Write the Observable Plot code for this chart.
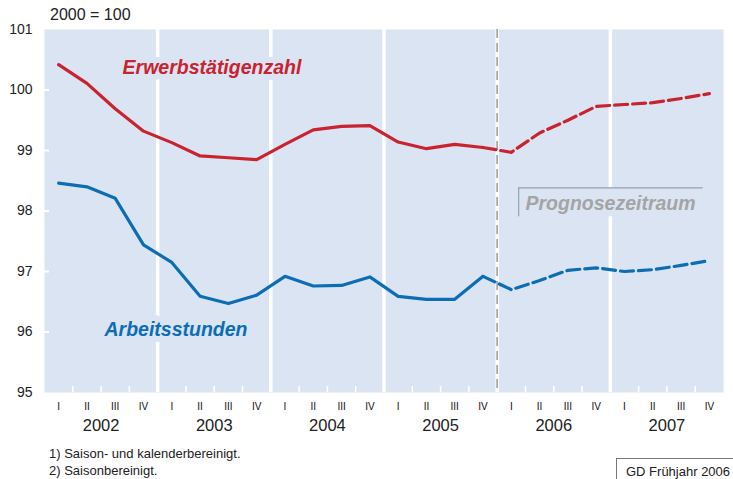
<!DOCTYPE html>
<html>
<head>
<meta charset="utf-8">
<script src="https://cdn.jsdelivr.net/npm/d3@7"></script>
<script src="https://cdn.jsdelivr.net/npm/@observablehq/plot@0.6"></script>
<style>
  html, body { margin: 0; padding: 0; background: #fff; }
  body { font-family: "Liberation Sans", Arial, sans-serif; color: #222; width: 733px; height: 479px; overflow: hidden; }
  #head { position: relative; height: 23px; }
  #head span { position: absolute; left: 50px; top: 6px; font-size: 16px; line-height: normal; white-space: nowrap; }
  #foot { position: relative; height: 38px; }
  #foot .fn { position: absolute; left: 49px; font-size: 13px; line-height: normal; white-space: nowrap; }
  #foot .src { position: absolute; left: 616px; top: 17px; right: -5px; bottom: -5px; border-left: 1px solid #777; border-top: 1px solid #777; padding: 5px 0 0 9px; font-size: 13px; line-height: normal; white-space: nowrap; }
  svg { overflow: visible; }
</style>
</head>
<body>
<div id="head"><span>2000 = 100</span></div>
<div id="chart"></div>
<div id="foot">
  <span class="fn" style="top:5px">1) Saison- und kalenderbereinigt.</span>
  <span class="fn" style="top:22px">2) Saisonbereinigt.</span>
  <div class="src">GD Frühjahr 2006</div>
</div>
<script>
// ---- data ----
const years = [2002, 2003, 2004, 2005, 2006, 2007];
const quarters = ["I", "II", "III", "IV"];
const erwerbstaetige = [
  100.42, 100.11, 99.69, 99.32,
  99.13, 98.91, 98.88, 98.85,
  99.10, 99.34, 99.40, 99.41,
  99.14, 99.03, 99.10, 99.05,
  98.97, 99.29, 99.50, 99.73,
  99.76, 99.79, 99.86, 99.94
];
const arbeitsstunden = [
  98.46, 98.40, 98.21, 97.44,
  97.15, 96.59, 96.47, 96.61,
  96.92, 96.76, 96.77, 96.91,
  96.59, 96.54, 96.54, 96.92,
  96.70, 96.85, 97.02, 97.06,
  97.00, 97.03, 97.10, 97.18
];
const yTicks = [95, 96, 97, 98, 99, 100, 101];
const forecastStart = 2006;
const seriesLabels = ["Erwerbstätigenzahl", "Arbeitsstunden"];
const forecastLabel = "Prognosezeitraum";

// ---- styles ----
const BG = "#dae4f3";
const RED = "#c8232e";
const BLUE = "#0c6db4";
const W = 733, H = 418;

const data = [];
years.forEach((yr, i) => quarters.forEach((q, j) => {
  data.push({t: yr + (j + 0.5) / 4, e: erwerbstaetige[i * 4 + j], s: arbeitsstunden[i * 4 + j]});
}));
// observed: up to last quarter before forecast; forecast: from last observed quarter on
const observed = data.filter(d => d.t < forecastStart);
const forecast = data.filter(d => d.t > forecastStart - 0.25);
const quarterCenters = data.map(d => d.t);
const quarterBounds = [];
years.forEach(yr => [1, 2, 3].forEach(j => quarterBounds.push(yr + j / 4)));
const yearBounds = years.slice(1);
const yearCenters = years.map(y => y + 0.5);

const box = {x1: 2006.19, x2: 2007.82, top: 98.383, bottom: 97.905};

const plot = Plot.plot({
  width: W,
  height: H,
  marginLeft: 44,
  marginRight: 10,
  marginTop: 6,
  marginBottom: 49,
  style: {fontFamily: "'Liberation Sans', Arial, sans-serif", background: "transparent", color: "#222", overflow: "visible"},
  x: {domain: [2002, 2008]},
  y: {domain: [95, 101]},
  marks: [
    Plot.frame({fill: BG, stroke: null}),
    Plot.ruleX(yearBounds, {stroke: "white", strokeWidth: 3.5}),
    Plot.ruleX([forecastStart], {stroke: "#a8a39b", strokeWidth: 1.7, strokeDasharray: "9,5"}),
    Plot.axisX(quarterBounds, {anchor: "bottom", tickSize: -6, stroke: "white", strokeWidth: 1.5, tickFormat: () => "", label: null}),
    Plot.axisY(yTicks.slice(1, -1), {anchor: "left", tickSize: -5, stroke: "white", strokeWidth: 2, tickFormat: () => "", label: null}),
    Plot.axisY(yTicks, {anchor: "left", tickSize: 0, tickPadding: 12, fontSize: 14, fill: "#222", label: null, tickFormat: d => String(d)}),
    Plot.axisX(quarterCenters, {anchor: "bottom", tickSize: 0, tickPadding: 10, fontSize: 10, fill: "#111", label: null,
      tickFormat: d => quarters[Math.round((d - Math.floor(d)) * 4 - 0.5)]}),
    Plot.axisX(yearCenters, {anchor: "bottom", tickSize: 0, tickPadding: 27, fontSize: 16.5, fill: "#222", label: null,
      tickFormat: d => String(Math.floor(d))}),
    // forecast box
    Plot.rect([box], {x1: "x1", x2: "x2", y1: "top", y2: "bottom", fill: BG}),
    Plot.ruleY([box], {y: "top", x1: "x1", x2: "x2", stroke: "#98a1ab", strokeWidth: 1.2}),
    Plot.ruleX([box], {x: "x1", y1: "top", y2: "bottom", stroke: "#98a1ab", strokeWidth: 1.2}),
    Plot.text([forecastLabel], {x: 2006.25, y: 98.127, text: d => d, textAnchor: "start", fontSize: 19.5, fontWeight: "bold", fontStyle: "italic", fill: "#a4a4a4"}),
    // series
    Plot.lineY(observed, {x: "t", y: "e", stroke: RED, strokeWidth: 3.2}),
    Plot.lineY(forecast, {x: "t", y: "e", stroke: RED, strokeWidth: 3.2, strokeDasharray: "13,5"}),
    Plot.lineY(observed, {x: "t", y: "s", stroke: BLUE, strokeWidth: 3.2}),
    Plot.lineY(forecast, {x: "t", y: "s", stroke: BLUE, strokeWidth: 3.2, strokeDasharray: "13,5"}),
    // series labels
    Plot.text([seriesLabels[0]], {x: 2002.69, y: 100.36, text: d => d, textAnchor: "start", fontSize: 19.5, fontWeight: "bold", fontStyle: "italic",
      fill: RED, stroke: BG, strokeWidth: 12, paintOrder: "stroke", strokeLinejoin: "round"}),
    Plot.text([seriesLabels[1]], {x: 2002.53, y: 96.03, text: d => d, textAnchor: "start", fontSize: 19.5, fontWeight: "bold", fontStyle: "italic",
      fill: BLUE, stroke: BG, strokeWidth: 12, paintOrder: "stroke", strokeLinejoin: "round"})
  ]
});

document.getElementById("chart").appendChild(plot);
</script>
</body>
</html>
